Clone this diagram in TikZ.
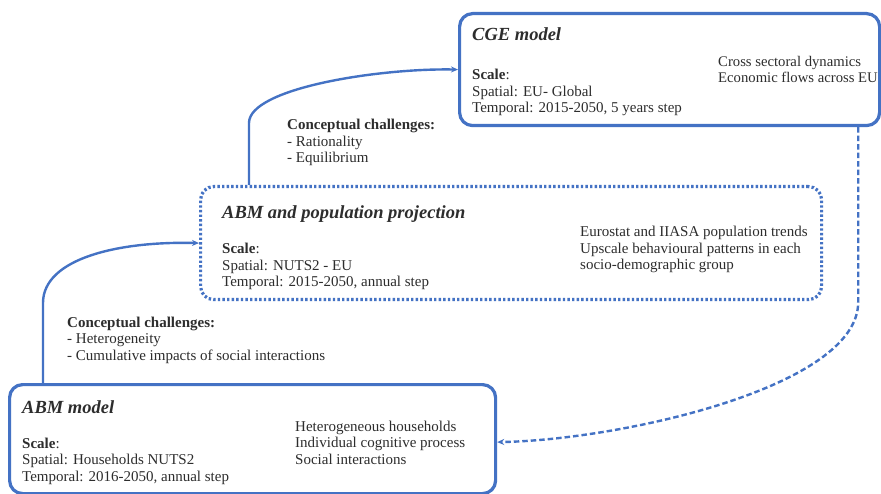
\documentclass[tikz,border=0pt]{standalone}
\usepackage{fontspec}
\setmainfont{Liberation Serif}
\usetikzlibrary{arrows.meta,calc}
\definecolor{boxblue}{RGB}{68,114,196}
\definecolor{ink}{RGB}{45,45,45}
\tikzset{
  modelbox/.style={draw=boxblue, line width=3.2pt, rounded corners=13pt, anchor=north west, inner sep=0pt},
  dotbox/.style={draw=boxblue, line width=3.2pt, rounded corners=13pt, anchor=north west, inner sep=0pt,
    dash pattern=on 2.4pt off 2.2pt},
  title/.style={anchor=base west, inner sep=0pt, text=ink, font=\fontsize{18.5}{20}\selectfont\bfseries\itshape},
  body/.style={anchor=base west, inner sep=0pt, text=ink, align=left, font=\fontsize{15}{16.5}\selectfont},
  conn/.style={draw=boxblue, line width=2.4pt, -{Stealth[length=7pt,width=6pt]}},
  dconn/.style={conn, dash pattern=on 5.5pt off 3pt}
}
\begin{document}
\begin{tikzpicture}[x=1pt,y=-1pt]
\useasboundingbox[fill=white] (0,0) rectangle (881,494);

% the three model boxes
\node[modelbox, minimum width=420pt, minimum height=112pt] (cge) at (458,12) {};
\node[dotbox, minimum width=621pt, minimum height=113pt] (pop) at (199,185) {};
\node[modelbox, minimum width=486pt, minimum height=109pt] (abm) at (8,383) {};

% CGE model texts (multi-line nodes are placed by the baseline of their last line)
\node[title] (cget) at (472,41) {CGE model};
\node[body] (cges) at (472,113) {\textbf{Scale}:\\Spatial: EU- Global\\Temporal: 2015-2050, 5 years step};
\node[body, font=\fontsize{14.7}{16.5}\selectfont] (cger) at (718,83) {Cross sectoral dynamics\\Economic flows across EU};

% ABM and population projection texts
\node[title] (popt) at (222,219) {ABM and population projection};
\node[body] (pops) at (222,287) {\textbf{Scale}:\\Spatial: NUTS2 - EU\\Temporal: 2015-2050, annual step};
\node[body] (popr) at (580,270) {Eurostat and IIASA population trends\\Upscale behavioural patterns in each\\socio-demographic group};

% ABM model texts
\node[title] (abmt) at (22,413) {ABM model};
\node[body] (abms) at (22,481) {\textbf{Scale}:\\Spatial: Households NUTS2\\Temporal: 2016-2050, annual step};
\node[body] (abmr) at (295,464) {Heterogeneous households\\Individual cognitive process\\Social interactions};

% conceptual challenges
\node[body] (ch1) at (287,163) {\textbf{Conceptual challenges:}\\- Rationality\\- Equilibrium};
\node[body] (ch2) at (67,360) {\textbf{Conceptual challenges:}\\- Heterogeneity\\- Cumulative impacts of social interactions};

% connectors
\coordinate (abmup) at ($(abm.north west)+(35,0)$);
\coordinate (popup) at ($(pop.north west)+(50,0)$);
\coordinate (cgedn) at ($(cge.south east)+(-23,0)$);
\draw[conn] (abmup) -- ++(0,-80) .. controls +(0,-45) and (120,241) .. (pop.west);
\draw[conn] (popup) -- ++(0,-62) .. controls +(0,-35) and (380,68) .. (cge.west);
\draw[dconn] (cgedn) -- ++(0,175) .. controls +(0,85) and (620,440) .. ($(abm.east)+(0,3)$);
\end{tikzpicture}
\end{document}
